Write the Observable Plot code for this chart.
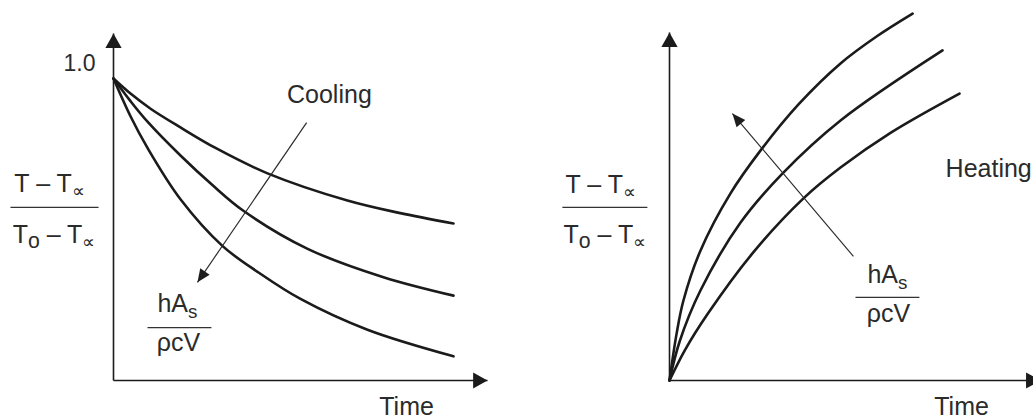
<!DOCTYPE html>
<html>
<head>
<meta charset="utf-8">
<script src="https://cdn.jsdelivr.net/npm/d3@7"></script>
<script src="https://cdn.jsdelivr.net/npm/@observablehq/plot@0.6"></script>
<style>
  html, body { margin: 0; padding: 0; background: #fff; overflow: hidden; }
  #chart { position: relative; width: 1033px; height: 419px; }
  #chart svg { position: absolute; left: 0; top: 0; }
</style>
</head>
<body>
<div id="chart"></div>
<script>
// Lumped-capacitance response: θ = (T − T∞)/(To − T∞) against time,
// one curve per value of hA_s/ρcV (slow, medium, fast).

// Cooling (θ falls from 1.0)
const coolTimeSlow = [0, 0.5, 1.09, 1.97, 3.0, 4.53, 6.88, 8.4, 10];
const coolSlow     = [1, 0.95, 0.90, 0.838, 0.77, 0.686, 0.596, 0.555, 0.52];
const coolTimeMid  = [0, 0.5, 1.0, 1.97, 2.9, 3.82, 5.71, 7.94, 10];
const coolMid      = [1, 0.925, 0.857, 0.745, 0.648, 0.562, 0.436, 0.342, 0.281];
const coolTimeFast = [0, 0.5, 1.0, 1.97, 3.21, 4.3, 5.5, 7.47, 10];
const coolFast     = [1, 0.875, 0.77, 0.60, 0.445, 0.355, 0.27, 0.168, 0.08];

// Heating (θ rises from 0)
const heatTimeFast = [0, 0.21, 0.41, 0.91, 1.79, 2.68, 3.8, 5.03, 6.1, 7.15];
const heatFast     = [0, 0.156, 0.265, 0.43, 0.619, 0.762, 0.915, 1.05, 1.14, 1.215];
const heatTimeMid  = [0, 0.3, 0.91, 2.09, 3.32, 5.03, 8.03];
const heatMid      = [0, 0.13, 0.298, 0.523, 0.685, 0.861, 1.093];
const heatTimeSlow = [0, 0.45, 1.12, 2.47, 3.94, 5.03, 6.5, 8.53];
const heatSlow     = [0, 0.10, 0.22, 0.425, 0.603, 0.705, 0.82, 0.95];

// Tick and label text
const yTicks = [1.0];
const yLabel = ["T – T_∝", "T_o – T_∝"];
const rateLabel = ["hA_s", "ρcV"];
const timeLabel = "Time";
const coolingLabel = "Cooling";
const heatingLabel = "Heating";

const W = 1033, H = 419;
const ink = "#1b1b1b";
const textInk = "#2b2b2b";
const fontFamily = "'Liberation Sans', Arial, Helvetica, sans-serif";

// Filled arrowhead whose tip sits on the anchor point, pointing up before rotation
function arrowHead(len, half) {
  return {
    draw(ctx, size) {
      const r = Math.sqrt(size / Math.PI);
      ctx.moveTo(0, 0);
      ctx.lineTo(half * r, len * r);
      ctx.lineTo(-half * r, len * r);
      ctx.closePath();
    }
  };
}
const axisHead = arrowHead(2.4, 1.35);
const pointerHead = arrowHead(2.2, 0.95);

const rows = (ts, vs, id) => ts.map((t, i) => ({t, v: vs[i], id}));

// Subscripts are written as "_x" and turned into shifted tspans
const subSize = {"∝": 0.72, "o": 0.85, "s": 0.75};
const subShift = {"∝": 5, "o": 5, "s": 6};
function applySubscripts(svg) {
  const ns = "http://www.w3.org/2000/svg";
  svg.querySelectorAll("text").forEach((el) => {
    const s = el.textContent;
    if (!s.includes("_")) return;
    el.textContent = "";
    const parts = s.split(/_(.)/);
    let shifted = 0;
    parts.forEach((p, i) => {
      if (!p) return;
      const ts = document.createElementNS(ns, "tspan");
      ts.textContent = p;
      if (i % 2 === 1) {
        ts.setAttribute("font-size", (subSize[p] || 0.7) * 100 + "%");
        const d = subShift[p] || 5;
        ts.setAttribute("dy", d - shifted);
        shifted = d;
      } else if (shifted) {
        ts.setAttribute("dy", -shifted);
        shifted = 0;
      }
      el.appendChild(ts);
    });
  });
}

function panel(cfg) {
  const sx = d3.scaleLinear([0, 10], [cfg.left, cfg.right]);
  const sy = d3.scaleLinear([0, 1], [380, 78]);
  const heading = (a) =>
    Math.atan2(sx(a.t2) - sx(a.t1), -(sy(a.v2) - sy(a.v1))) * 180 / Math.PI;

  const axes = [
    {t1: 0, v1: 0, t2: 0, v2: cfg.axisTop},
    {t1: 0, v1: 0, t2: cfg.axisRight, v2: 0}
  ];
  const axisTips = [
    {t: 0, v: cfg.axisTop, rot: 0},
    {t: cfg.axisRight, v: 0, rot: 90}
  ];
  const pointer = [{...cfg.pointer, rot: heading(cfg.pointer)}];
  const textStyle = {x: "t", y: "v", text: "text", fontSize: 25, fill: textInk, fontFamily};

  const marks = [
    Plot.link(axes, {x1: "t1", y1: "v1", x2: "t2", y2: "v2", stroke: ink, strokeWidth: 1.6}),
    Plot.dot(axisTips, {x: "t", y: "v", rotate: "rot", symbol: axisHead, r: 6, fill: ink, stroke: "none"}),
    Plot.line(cfg.curves, {x: "t", y: "v", z: "id", curve: "catmull-rom", stroke: ink, strokeWidth: 2.6}),
    Plot.link(pointer, {x1: "t1", y1: "v1", x2: "t2", y2: "v2", stroke: "#2a2a2a", strokeWidth: 1.15}),
    Plot.dot(pointer, {x: "t2", y: "v2", rotate: "rot", symbol: pointerHead, r: 6, fill: "#1e1e1e", stroke: "none"}),
    Plot.link(cfg.bars, {x1: "t1", x2: "t2", y1: "v", y2: "v", stroke: "#333", strokeWidth: 1.3}),
    Plot.text(cfg.texts.filter((d) => d.anchor === "middle"), {...textStyle, textAnchor: "middle"}),
    Plot.text(cfg.texts.filter((d) => d.anchor === "start"), {...textStyle, textAnchor: "start"})
  ];
  if (cfg.ticks) {
    marks.push(Plot.axisY(cfg.ticks, {
      tickSize: 0, tickPadding: 18, dy: -15, fontSize: 23,
      tickFormat: (d) => d.toFixed(1), label: null, fill: textInk, fontFamily
    }));
  }

  const svg = Plot.plot({
    width: W, height: H,
    marginLeft: cfg.left, marginRight: W - cfg.right,
    marginTop: 78, marginBottom: H - 380,
    x: {domain: [0, 10], axis: null},
    y: {domain: [0, 1], axis: cfg.ticks ? undefined : null},
    style: {background: "transparent", fontFamily, color: textInk},
    marks
  });
  applySubscripts(svg);
  return svg;
}

const cooling = panel({
  left: 113, right: 453,
  axisTop: 1.149, axisRight: 11.0,
  ticks: yTicks,
  curves: [
    ...rows(coolTimeSlow, coolSlow, "slow"),
    ...rows(coolTimeMid, coolMid, "mid"),
    ...rows(coolTimeFast, coolFast, "fast")
  ],
  pointer: {t1: 5.68, v1: 0.854, t2: 2.47, v2: 0.325},
  bars: [
    {t1: -3.03, t2: -0.44, v: 0.573},
    {t1: 1.0, t2: 2.88, v: 0.175}
  ],
  texts: [
    {text: coolingLabel, t: 6.35, v: 0.944, anchor: "middle"},
    {text: yLabel[0], t: -1.88, v: 0.652, anchor: "middle"},
    {text: yLabel[1], t: -1.75, v: 0.483, anchor: "middle"},
    {text: rateLabel[0], t: 1.88, v: 0.252, anchor: "middle"},
    {text: rateLabel[1], t: 1.91, v: 0.123, anchor: "middle"},
    {text: timeLabel, t: 8.62, v: -0.089, anchor: "middle"}
  ]
});

const heating = panel({
  left: 669, right: 1009,
  axisTop: 1.152, axisRight: 10.91,
  curves: [
    ...rows(heatTimeFast, heatFast, "fast"),
    ...rows(heatTimeMid, heatMid, "mid"),
    ...rows(heatTimeSlow, heatSlow, "slow")
  ],
  pointer: {t1: 5.41, v1: 0.411, t2: 1.85, v2: 0.884},
  bars: [
    {t1: -3.15, t2: -0.65, v: 0.573},
    {t1: 5.47, t2: 7.35, v: 0.275}
  ],
  texts: [
    {text: heatingLabel, t: 8.12, v: 0.699, anchor: "start"},
    {text: yLabel[0], t: -2.02, v: 0.646, anchor: "middle"},
    {text: yLabel[1], t: -1.9, v: 0.483, anchor: "middle"},
    {text: rateLabel[0], t: 6.41, v: 0.348, anchor: "middle"},
    {text: rateLabel[1], t: 6.44, v: 0.219, anchor: "middle"},
    {text: timeLabel, t: 8.59, v: -0.089, anchor: "middle"}
  ]
});

const root = document.getElementById("chart");
root.appendChild(cooling);
root.appendChild(heating);
</script>
</body>
</html>
